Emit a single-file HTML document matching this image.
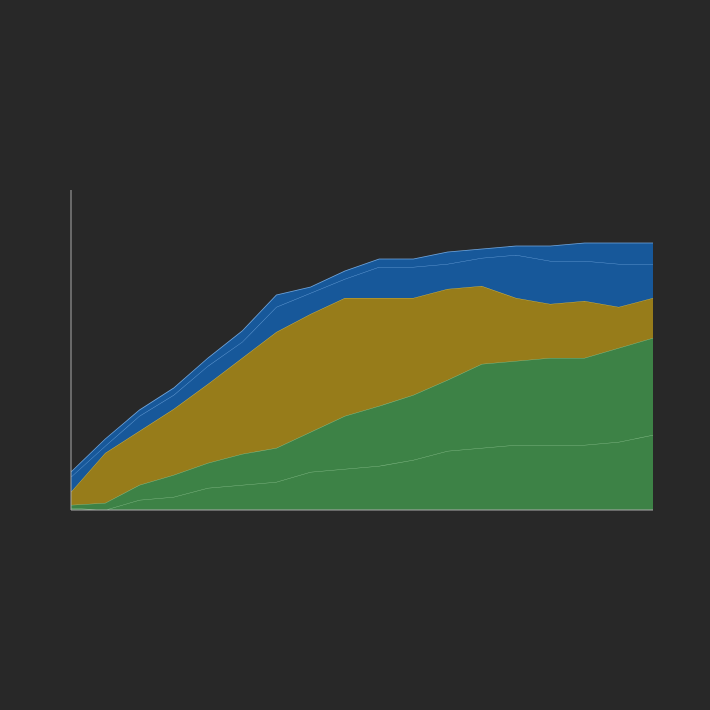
<!DOCTYPE html>
<html><head><meta charset="utf-8"><style>
html,body{margin:0;padding:0;background:#282828;}
svg{display:block;}
</style></head><body>
<svg id="chart" width="710" height="710">
<rect width="710" height="710" fill="#282828"/>
<g id="areas"></g>
<line x1="71" y1="190" x2="71" y2="510" stroke="#aaaaaa" stroke-width="1"/>
<line x1="71" y1="510" x2="653" y2="510" stroke="#aaaaaa" stroke-width="1"/>
</svg>
<script>
const categories = [0,1,2,3,4,5,6,7,8,9,10,11,12,13,14,15,16,17];
const series1 = [2,0,10,13,22,25,28,38,41,44,50,59,62,65,65,65,68,75];
const series2 = [3,7,15,22,25,31,34,40,53,60,65,71,84,84,87,87,94,97];
const series3 = [13,50,54,66,79,96,116,118,118,108,97,91,78,63,54,57,41,40];
const series4 = [15,7,15,14,18,16,25,21,19,31,31,25,28,43,43,40,43,34];
const series5 = [5,7,6,7,8,11,12,6,8,8,8,12,9,9,15,18,21,21];
const allSeries = [series1,series2,series3,series4,series5];
const fills = ['#3d8246','#3d8246','#977c1a','#17589a','#17589a'];
const strokes = ['#8cc08f','#8cc08f','#d4b84a','#6ea4dc','#6ea4dc'];
const names = ['series-1-area','series-2-area','series-3-area','series-4-area','series-5-area'];
const X0=71,X1=653,Y0=510,Y1=190,YMAX=320;
const xs = i => X0 + (X1-X0)*i/(categories.length-1);
const ys = v => Y0 - (Y0-Y1)*v/YMAX;
const g = document.getElementById('areas');
const NS='http://www.w3.org/2000/svg';
let base = categories.map(()=>0);
allSeries.forEach((s,k)=>{
  const top = base.map((b,i)=>b+s[i]);
  let d = 'M'+categories.map((c,i)=>xs(i)+','+ys(top[i])).join('L');
  for(let i=categories.length-1;i>=0;i--) d+='L'+xs(i)+','+ys(base[i]);
  d+='Z';
  const p=document.createElementNS(NS,'path');
  p.setAttribute('d',d);p.setAttribute('fill',fills[k]);
  
  
  g.appendChild(p);
  const l=document.createElementNS(NS,'polyline');
  l.setAttribute('points',categories.map((c,i)=>xs(i)+','+ys(top[i])).join(' '));
  l.setAttribute('fill','none');l.setAttribute('stroke',strokes[k]);l.setAttribute('stroke-width','0.8');
  
  
  g.appendChild(l);
  base = top;
});
</script>
</body></html>
